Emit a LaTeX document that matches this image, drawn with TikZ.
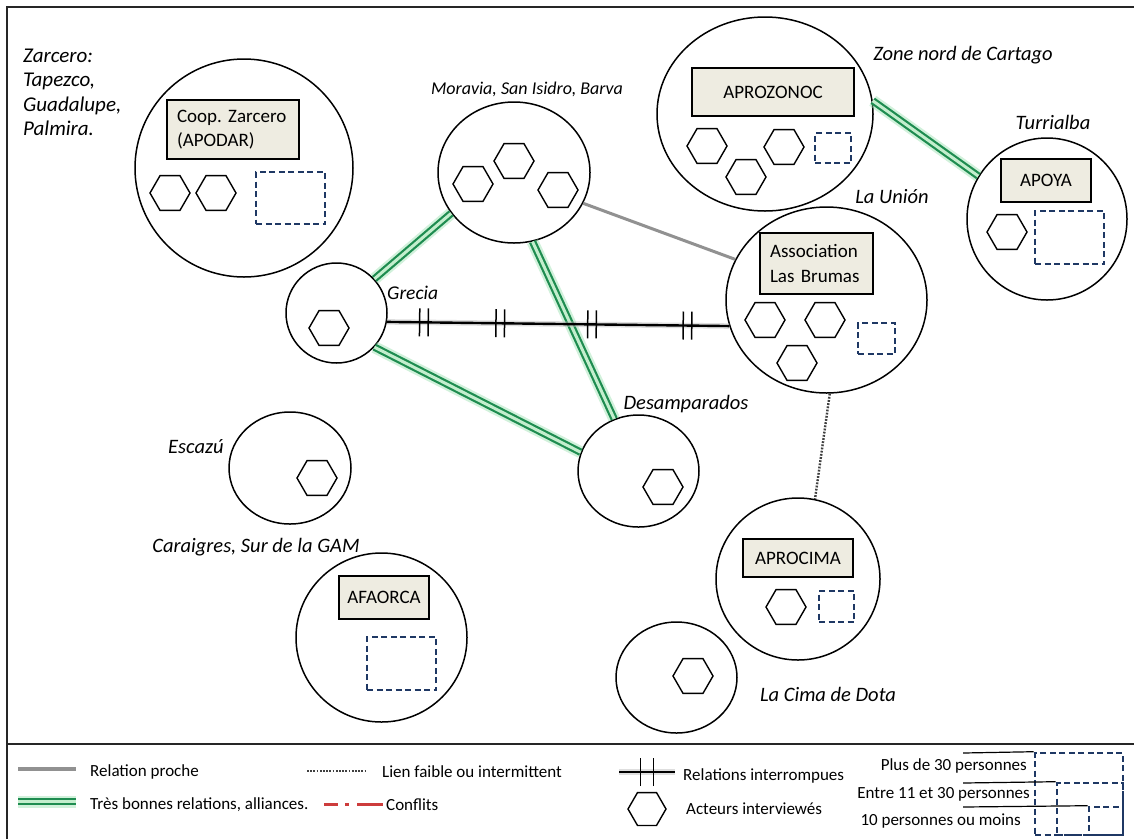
\documentclass[tikz,border=0pt]{standalone}
\usepackage{fontspec}
\setmainfont{Carlito}
\frenchspacing
\usetikzlibrary{shapes.geometric,decorations.markings}
\definecolor{boxfill}{RGB}{238,236,225}
\definecolor{navy}{RGB}{31,56,100}
\definecolor{dkgreen}{RGB}{30,140,80}
\definecolor{ltgreen}{RGB}{195,238,205}
\definecolor{glowgreen}{RGB}{140,220,165}
\definecolor{relgray}{RGB}{145,145,145}
\definecolor{confred}{RGB}{205,60,60}
\newcommand{\tkpair}[1]{\draw[line width=1.5pt] (-#1,-14pt) -- (-#1,14pt) (#1,-14pt) -- (#1,14pt);}
\tikzset{
 region/.style={ellipse, draw, line width=1.5pt, inner sep=0pt},
 actor/.style={regular polygon, regular polygon sides=6, draw, line width=1.4pt, minimum size=40pt, inner sep=0pt},
 orgbox/.style={draw, line width=1.5pt, fill=boxfill, inner sep=0pt, font=\fontsize{19}{24.5}\selectfont},
 sizebox/.style={draw=navy, line width=2.6pt, dash pattern=on 6pt off 3.5pt, inner sep=0pt},
 place/.style={font=\fontsize{20.5}{24.5}\selectfont\itshape, inner sep=0pt},
 legtext/.style={font=\fontsize{17}{20}\selectfont, inner sep=0pt},
 greenrel/.style={preaction={draw=glowgreen, line width=12pt, opacity=0.4}, draw=dkgreen, line width=2.2pt, double=ltgreen, double distance=3pt},
 grayrel/.style={draw=relgray, line width=3pt},
 weakrel/.style={draw=black!75, line width=2.4pt, dash pattern=on 1.8pt off 1.4pt},
 conflict/.style={draw=confred, line width=3pt, dash pattern=on 14pt off 7pt on 4pt off 8pt on 30pt off 10pt},
 brokenrel/.style={preaction={draw=black!25, line width=5.5pt, opacity=0.5}, draw=black, line width=2.4pt},
 thinline/.style={draw=black, line width=1.2pt},
}
\begin{document}
\begin{tikzpicture}[x=1pt,y=-1pt]
\useasboundingbox (0,0) rectangle (1134,839);
\fill[white] (0,0) rectangle (1134,839);
% frame
\coordinate (fbl) at (7,839);
\coordinate (ftl) at (7,7);
\coordinate (ftr) at (1134,7);
\coordinate (sepl) at (7,744);
\coordinate (sepr) at (1134,744);
\draw[line width=1.6pt, black!85] (fbl) -- (ftl) -- (ftr);
\draw[line width=1.6pt, black!85] (sepl) -- (sepr);

% ---------- regions ----------
\node[region, minimum width=218pt, minimum height=218pt] (zarcero) at (244,168) {};
\node[region, minimum width=152pt, minimum height=141pt] (moravia) at (514,172.5) {};
\node[region, minimum width=101pt, minimum height=100pt] (grecia) at (336.5,313) {};
\node[region, minimum width=201pt, minimum height=186pt] (union) at (826.5,300) {};
\node[region, minimum width=216pt, minimum height=194pt] (aproz) at (765,114) {};
\node[region, minimum width=160pt, minimum height=162pt] (apoya) at (1047,219) {};
\node[region, minimum width=121pt, minimum height=112pt] (desamp) at (638.5,471) {};
\node[region, minimum width=164pt, minimum height=162pt] (aprocima) at (798,579) {};
\node[region, minimum width=121pt, minimum height=111pt] (dota) at (676.5,677.5) {};
\node[region, minimum width=122pt, minimum height=112pt] (escazu) at (290,468) {};
\node[region, minimum width=171pt, minimum height=169pt] (afaorca) at (381.5,637.5) {};

% ---------- organisation boxes ----------
\node[orgbox, inner xsep=10pt, text width=112pt, minimum height=59pt, align=left] (bzarcero) at (233,129.5) {Coop. Zarcero\\(APODAR)};
\node[orgbox, minimum width=162pt, minimum height=48pt] (baproz) at (773,92) {APROZONOC};
\node[orgbox, inner xsep=10pt, text width=93pt, minimum height=61pt, align=left] (bunion) at (816.5,263.5) {Association\\Las Brumas};
\node[orgbox, minimum width=90pt, minimum height=43pt] (bapoya) at (1046,180.5) {APOYA};
\node[orgbox, minimum width=110pt, minimum height=38pt] (baprocima) at (798,558) {APROCIMA};
\node[orgbox, minimum width=90pt, minimum height=43pt] (bafaorca) at (384,597.5) {AFAORCA};

% ---------- group size boxes ----------
\node[sizebox, minimum width=69pt, minimum height=52pt] (szarcero) at (290.5,198) {};
\node[sizebox, minimum width=36pt, minimum height=30pt] (saproz) at (833,148) {};
\node[sizebox, minimum width=37pt, minimum height=31pt] (sunion) at (876.5,338.5) {};
\node[sizebox, minimum width=69pt, minimum height=53pt] (sapoya) at (1069.5,237.5) {};
\node[sizebox, minimum width=35pt, minimum height=31pt] (saprocima) at (836.5,606.5) {};
\node[sizebox, minimum width=69pt, minimum height=53pt] (safaorca) at (401.5,663.5) {};

% ---------- actors ----------
\node[actor] (hz1) at (170,193) {};
\node[actor] (hz2) at (216,193) {};
\node[actor] (hm1) at (473,184) {};
\node[actor] (hm2) at (514,161) {};
\node[actor] (hm3) at (558,190) {};
\node[actor] (hg1) at (329,328) {};
\node[actor] (hu1) at (765,320) {};
\node[actor] (hu2) at (825,320) {};
\node[actor] (hu3) at (797,363) {};
\node[actor] (ha1) at (707,146) {};
\node[actor] (ha2) at (746,177) {};
\node[actor] (ha3) at (784,147) {};
\node[actor] (hp1) at (1007,232) {};
\node[actor] (hd1) at (663,487) {};
\node[actor] (hc1) at (786,607) {};
\node[actor] (ho1) at (693,676) {};
\node[actor] (he1) at (317,478) {};

% ---------- place labels ----------
\node[place, font=\fontsize{21}{24.5}\selectfont\itshape, anchor=west, align=left] (lzarcero) at (23,92.5) {Zarcero:\\Tapezco,\\Guadalupe,\\Palmira.};
\node[place, font=\fontsize{18}{22}\selectfont\itshape] (lmoravia) at (527,89) {Moravia, San Isidro, Barva};
\node[place, font=\fontsize{19.5}{22}\selectfont\itshape, anchor=west] (lgrecia) at (387,293) {Grecia};
\node[place] (lunion) at (892,197) {La Unión};
\node[place] (laproz) at (963,55) {Zone nord de Cartago};
\node[place] (lapoya) at (1053,122) {Turrialba};
\node[place] (ldesamp) at (686,404) {Desamparados};
\node[place] (ldota) at (828,694) {La Cima de Dota};
\node[place] (lescazu) at (196,447) {Escazú};
\node[place] (lafaorca) at (256,547) {Caraigres, Sur de la GAM};

% ---------- relations ----------
\draw[greenrel] (grecia.42) -- (moravia.-147);
\draw[greenrel] (grecia.-42) -- (desamp.162);
\draw[greenrel] (moravia.-75) -- (desamp.115);
\draw[greenrel] (aproz.7) -- (apoya.148);
\draw[grayrel] (moravia.-24) -- (union.156);
\draw[brokenrel, postaction={decorate, decoration={markings,
   mark=at position 0.108 with {\tkpair{4.3pt}},
   mark=at position 0.331 with {\tkpair{4.3pt}},
   mark=at position 0.599 with {\tkpair{4.3pt}},
   mark=at position 0.878 with {\tkpair{4.3pt}}}}] (grecia.-10) -- (union.-165);
\draw[weakrel] (union.-88) -- (aprocima.78);

% ---------- legend ----------
\coordinate (g1a) at (18,769); \coordinate (g1b) at (76,769);
\draw[grayrel, line width=4pt] (g1a) -- (g1b);
\node[legtext, anchor=west] (tg1) at (90,772) {Relation proche};
\coordinate (g2a) at (18,801.5); \coordinate (g2b) at (76,801.5);
\draw[greenrel] (g2a) -- (g2b);
\node[legtext, anchor=west] (tg2) at (90,805) {Très bonnes relations, alliances.};
\coordinate (g3a) at (307,771); \coordinate (g3b) at (367,771);
\draw[weakrel] (g3a) -- (g3b);
\node[legtext, anchor=west] (tg3) at (382,772) {Lien faible ou intermittent};
\coordinate (g4a) at (324,804); \coordinate (g4b) at (383,804);
\draw[conflict] (g4a) -- (g4b);
\node[legtext, anchor=west] (tg4) at (386,805) {Conflits};
\coordinate (g5a) at (619,772); \coordinate (g5b) at (675,772);
\draw[brokenrel, postaction={decorate, decoration={markings,
   mark=at position 0.5 with {\tkpair{6.5pt}}}}] (g5a) -- (g5b);
\node[legtext, anchor=west] (tg5) at (683,776) {Relations interrompues};
\node[actor, minimum size=38pt] (hleg) at (647,809) {};
\node[legtext, anchor=west] (tg6) at (686,809) {Acteurs interviewés};

\node[sizebox, minimum width=88pt, minimum height=82pt] (sbig) at (1079,794) {};
\node[sizebox, minimum width=66pt, minimum height=52pt] (smed) at (1090,809) {};
\node[sizebox, minimum width=34pt, minimum height=28pt] (ssmall) at (1106,821) {};
\node[legtext, anchor=east] (tg7) at (1027,766) {Plus de 30 personnes};
\node[legtext, anchor=east] (tg8) at (1030,794) {Entre 11 et 30 personnes};
\node[legtext, anchor=east] (tg9) at (1021,821) {10 personnes ou moins};
\coordinate (p1) at (963,753); \coordinate (p2) at (963,783); \coordinate (p3) at (963,807);
\draw[thinline] (p1) -- (sbig.north west);
\draw[thinline] (p2) -- (smed.north west);
\draw[thinline] (p3) -- (ssmall.north west);
\end{tikzpicture}
\end{document}
